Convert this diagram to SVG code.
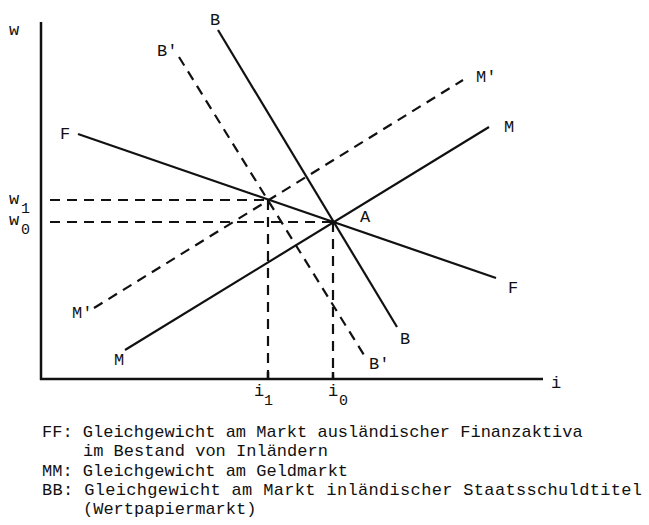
<svg xmlns="http://www.w3.org/2000/svg" width="649" height="525" viewBox="0 0 649 525">
<style>
text{font-family:"Liberation Mono","DejaVu Sans Mono",monospace;font-size:17px;fill:#111;white-space:pre}
.ax{stroke:#111;stroke-width:2.5;fill:none}
.s{stroke:#111;stroke-width:2.2;fill:none}
.d{stroke:#111;stroke-width:2.2;fill:none;stroke-dasharray:10 7}
.sub{font-size:15px}
</style>
<rect width="649" height="525" fill="#fff"/>
<g id="axes">
<line class="ax" x1="41" y1="22" x2="41" y2="380"/>
<line class="ax" x1="40" y1="379" x2="543" y2="379"/>
<line class="ax" x1="268" y1="372" x2="268" y2="379"/>
<line class="ax" x1="333" y1="372" x2="333" y2="379"/>
<text x="9" y="35">w</text>
<text x="551" y="388">i</text>
<text x="9" y="204">w</text><text class="sub" x="21" y="213">1</text>
<text x="9" y="225">w</text><text class="sub" x="21" y="234">0</text>
<text x="254" y="396">i</text><text class="sub" x="264" y="405">1</text>
<text x="328" y="396">i</text><text class="sub" x="339" y="405">0</text>
</g>
<g id="connectors">
<line class="d" x1="50" y1="200" x2="268" y2="200"/>
<line class="d" x1="50" y1="222" x2="333" y2="222"/>
<line class="d" x1="268" y1="200" x2="268" y2="379"/>
<line class="d" x1="333" y1="222" x2="333" y2="379"/>
</g>
<g id="curve-FF">
<line class="s" x1="78" y1="134" x2="496" y2="278"/>
<text x="60" y="139">F</text>
<text x="508" y="293">F</text>
</g>
<g id="curve-MM">
<line class="s" x1="125" y1="350" x2="489" y2="127"/>
<text x="504" y="132">M</text>
<text x="114" y="365">M</text>
</g>
<g id="curve-MM-prime">
<line class="d" x1="94" y1="308" x2="463" y2="80"/>
<text x="476" y="82">M'</text>
<text x="72" y="318">M'</text>
</g>
<g id="curve-BB">
<line class="s" x1="218" y1="30" x2="397" y2="327"/>
<text x="210" y="25">B</text>
<text x="400" y="344">B</text>
</g>
<g id="curve-BB-prime">
<line class="d" x1="179" y1="57" x2="364" y2="355"/>
<text x="157" y="56">B'</text>
<text x="369" y="369">B'</text>
</g>
<g id="point-A">
<text x="360" y="222">A</text>
</g>
<g id="legend">
<text x="42" y="437">FF: Gleichgewicht am Markt ausländischer Finanzaktiva</text>
<text x="83" y="456">im Bestand von Inländern</text>
<text x="42" y="476">MM: Gleichgewicht am Geldmarkt</text>
<text x="42" y="495" textLength="600">BB: Gleichgewicht am Markt inländischer Staatsschuldtitel</text>
<text x="83" y="514">(Wertpapiermarkt)</text>
</g>
</svg>
